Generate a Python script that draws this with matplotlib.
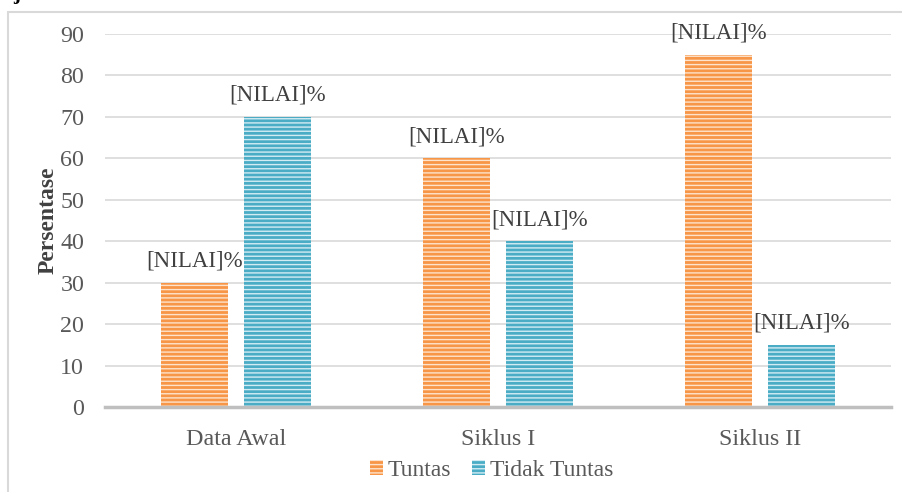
import numpy as np
import matplotlib
matplotlib.use('Agg')
import matplotlib.pyplot as plt
from matplotlib.patches import Rectangle

#data
categories= ['Data Awal', 'Siklus I', 'Siklus II']
tuntas= [30, 60, 85]
tidak_tuntas= [70, 40, 15]
series_names= ['Tuntas', 'Tidak Tuntas']
label_text= '[NILAI]%'
yticks= [0, 10, 20, 30, 40, 50, 60, 70, 80, 90]

plt.rcParams['font.family']= ['Liberation Serif', 'DejaVu Serif']

fig= plt.figure(figsize=(9.02, 4.92), dpi=100)
ax= fig.add_axes([105/902, 1-407/492, 786/902, 373/492])

x= np.arange(len(categories))
w= 0.256
off= 0.159

#bars with horizontal stripes
b1= ax.bar(x-off, tuntas, w, color='#F79646', edgecolor='#FDE3CC', linewidth=0, hatch='----', zorder=3, label=series_names[0])
b2= ax.bar(x+off, tidak_tuntas, w, color='#4BACC6', edgecolor='#D3ECF3', linewidth=0, hatch='----', zorder=3, label=series_names[1])

#data labels
for bars in (b1, b2):
	for r in bars:
		ax.annotate(label_text, (r.get_x()+r.get_width()/2, r.get_height()), xytext=(0, 8),
			textcoords='offset points', ha='center', va='bottom', fontsize=16.5, color='#404040')

ax.set_xlim(-0.5, 2.5)
ax.set_ylim(0, 90)
ax.set_yticks(yticks)
ax.set_xticks(x)
ax.set_xticklabels(categories)
ax.tick_params(axis='both', length=0, labelsize=17.3, labelcolor='#595959')
ax.tick_params(axis='x', pad=16)
ax.tick_params(axis='y', pad=15)
ax.yaxis.grid(True, color='#D9D9D9', linewidth=1.2, zorder=0)
ax.set_axisbelow(True)
for s in ['top', 'right', 'left']:
	ax.spines[s].set_visible(False)
ax.spines['bottom'].set_color('#BFBFBF')
ax.spines['bottom'].set_linewidth(2.5)
ax.spines['bottom'].set_zorder(4)

ax.set_ylabel('Persentase', fontsize=17, fontweight='bold', color='#404040', labelpad=1)

leg= ax.legend(loc='center', bbox_to_anchor=(0.492, -0.17), ncol=2, frameon=False, fontsize=17,
	handlelength=0.55, handleheight=0.55, handletextpad=0.2, columnspacing=0.9)
for t in leg.get_texts():
	t.set_color('#595959')

#outer frame of the chart (only top and left visible)
fig.add_artist(Rectangle((8/902, -0.1), 1.2, 1.1-12/492, transform=fig.transFigure,
	fill=False, edgecolor='#D9D9D9', linewidth=1.5, clip_on=False))

#cut caption fragment at the top
fig.text(17/902, 1+6/492, 'j', fontsize=15, fontweight='bold', ha='center', va='center', color='black')

fig.savefig('out.png', dpi=100)
